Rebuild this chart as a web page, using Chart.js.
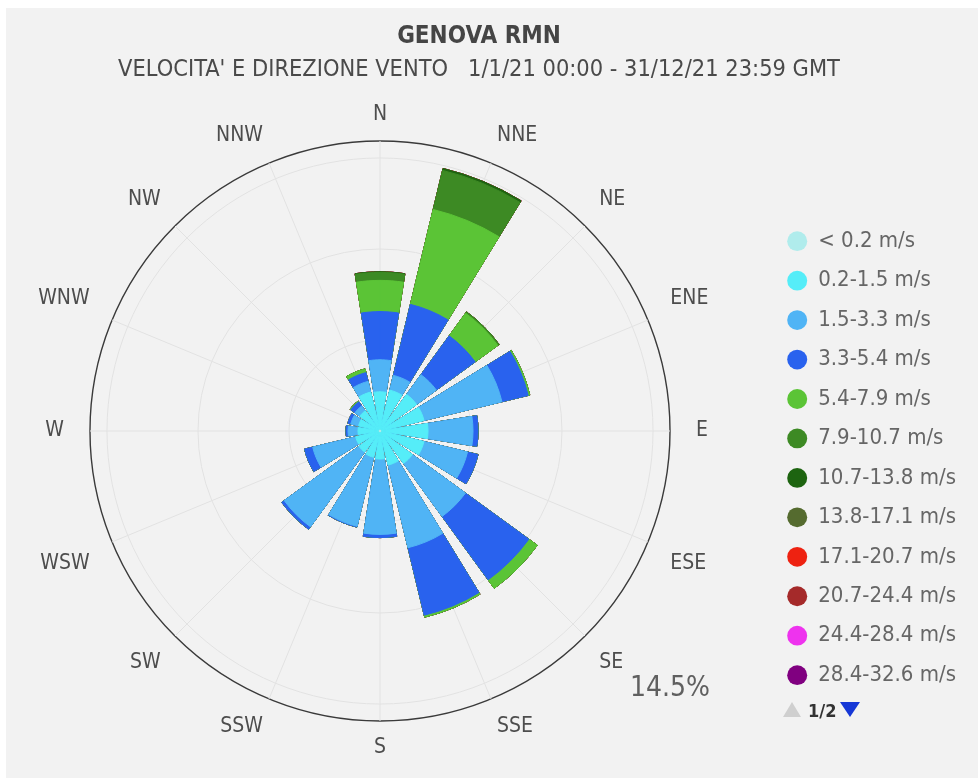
<!DOCTYPE html>
<html>
<head>
<meta charset="utf-8">
<script src="https://cdn.jsdelivr.net/npm/chart.js@4.4.1/dist/chart.umd.min.js"></script>
<style>
  html, body { margin: 0; padding: 0; width: 978px; height: 778px; overflow: hidden; background: #fff; }
  #panel { position: absolute; left: 6px; top: 8px; right: 0; bottom: 0; background: #f2f2f2; }
  #wrap { position: absolute; left: -8px; top: 0; width: 986px; height: 778px; }
  #pager { position: absolute; left: 783px; top: 700px; height: 22px; font: bold 18px 'DejaVu Sans Condensed', sans-serif; color: #333; line-height: 22px; }
  #pager .up { display: inline-block; width: 0; height: 0; border-left: 9px solid transparent; border-right: 9px solid transparent; border-bottom: 15px solid #cfcfcf; margin-right: 7px; }
  #pager .down { display: inline-block; width: 0; height: 0; border-left: 10px solid transparent; border-right: 10px solid transparent; border-top: 15px solid #1637d6; margin-left: 4px; }
</style>
</head>
<body>
<div id="panel"></div>
<div id="wrap"><canvas id="myChart"></canvas></div>
<div id="pager"><span class="up"></span>1/2<span class="down"></span></div>
<script>
var directions = ['N', 'NNE', 'NE', 'ENE', 'E', 'ESE', 'SE', 'SSE', 'S', 'SSW', 'SW', 'WSW', 'W', 'WNW', 'NW', 'NNW'];

var speedClasses = ['< 0.2 m/s', '0.2-1.5 m/s', '1.5-3.3 m/s', '3.3-5.4 m/s', '5.4-7.9 m/s', '7.9-10.7 m/s',
  '10.7-13.8 m/s', '13.8-17.1 m/s', '17.1-20.7 m/s', '20.7-24.4 m/s', '24.4-28.4 m/s', '28.4-32.6 m/s'];

var classColors = ['#b0ecec', '#55edf8', '#50b4f5', '#2962ee', '#5bc436', '#3d8a24',
  '#1d6410', '#556b2f', '#ee2211', '#a52a2a', '#ee33ee', '#800080'];

// frequency (%) per direction, N -> NNW
var freqBelow02 = [0.05, 0.05, 0.05, 0.05, 0.05, 0.05, 0.05, 0.05, 0.05, 0.05, 0.05, 0.05, 0.05, 0.05, 0.05, 0.05];
var freq02to15 = [1.91, 2.05, 2.21, 2.21, 2.35, 2.21, 1.95, 1.70, 1.35, 1.30, 1.25, 1.20, 1.05, 1.05, 1.20, 1.95];
var freq15to33 = [1.60, 0.76, 1.22, 4.01, 2.25, 2.24, 3.28, 4.25, 3.77, 3.55, 4.62, 2.21, 0.50, 0.40, 0.30, 0.55];
var freq33to54 = [2.41, 3.65, 2.40, 1.35, 0.25, 0.54, 3.92, 3.47, 0.16, 0.04, 0.15, 0.42, 0.10, 0.15, 0.25, 0.45];
var freq54to79 = [1.56, 4.88, 1.40, 0.08, 0, 0, 0.52, 0.10, 0, 0, 0, 0, 0, 0, 0.05, 0.19];
var freq79to107 = [0.40, 2.01, 0.08, 0, 0, 0, 0, 0, 0, 0, 0, 0, 0, 0, 0, 0];
var freq107to138 = [0.03, 0.10, 0, 0, 0, 0, 0, 0, 0, 0, 0, 0, 0, 0, 0, 0];
var freq138to171 = [0, 0, 0, 0, 0, 0, 0, 0, 0, 0, 0, 0, 0, 0, 0, 0];
var freq171to207 = [0, 0, 0, 0, 0, 0, 0, 0, 0, 0, 0, 0, 0, 0, 0, 0];
var freq207to244 = [0, 0, 0, 0, 0, 0, 0, 0, 0, 0, 0, 0, 0, 0, 0, 0];
var freq244to284 = [0, 0, 0, 0, 0, 0, 0, 0, 0, 0, 0, 0, 0, 0, 0, 0];
var freq284to326 = [0, 0, 0, 0, 0, 0, 0, 0, 0, 0, 0, 0, 0, 0, 0, 0];

var radiusTicks = [0, 4.55, 9.1, 13.65, 14.5];

var classSeries = [freqBelow02, freq02to15, freq15to33, freq33to54, freq54to79, freq79to107,
  freq107to138, freq138to171, freq171to207, freq207to244, freq244to284, freq284to326];

// each sector is 18deg wide with a 4.5deg gap; N is split around 0deg
var sectorAngle = 18;
var gapAngle = 4.5;

function toSlots(values) {
  var out = [values[0]];
  for (var i = 1; i < values.length; i++) {
    out.push(0, values[i]);
  }
  out.push(0, values[0]);
  return out;
}

var slotAngles = [sectorAngle / 2];
for (var i = 1; i < directions.length; i++) {
  slotAngles.push(gapAngle, sectorAngle);
}
slotAngles.push(gapAngle, sectorAngle / 2);

// stacked bands: each dataset reaches the running total of its class
var running = directions.map(function () { return 0; });
var datasets = classSeries.map(function (series, k) {
  running = running.map(function (v, i) { return v + series[i]; });
  return {
    label: speedClasses[k],
    data: toSlots(running),
    angle: slotAngles,
    backgroundColor: classColors[k],
    borderColor: classColors[k],
    borderWidth: function (ctx) { return ctx.dataIndex % 2 === 0 ? 1 : 0; }
  };
});

var maxLabel = {
  id: 'maxLabel',
  afterDraw: function (chart) {
    var r = chart.scales.r;
    var ctx = chart.ctx;
    ctx.save();
    ctx.font = "28px 'DejaVu Sans Condensed', sans-serif";
    ctx.fillStyle = '#606060';
    ctx.textAlign = 'center';
    ctx.textBaseline = 'middle';
    ctx.fillText(r.max + '%', r.xCenter + r.drawingArea, r.yCenter + r.drawingArea * 0.89);
    ctx.restore();
  }
};

var ctx = document.getElementById('myChart').getContext('2d');
var chart = new Chart(ctx, {
  type: 'polarArea',
  data: {
    labels: directions,
    datasets: datasets
  },
  plugins: [maxLabel],
  options: {
    responsive: true,
    maintainAspectRatio: false,
    animation: false,
    events: [],
    layout: {
      padding: { left: 0, right: 12, top: 0, bottom: 15.8 }
    },
    scales: {
      r: {
        min: 0,
        max: 14.5,
        afterBuildTicks: function (scale) {
          scale.ticks = radiusTicks.map(function (v) { return { value: v }; });
        },
        ticks: { display: false },
        grid: {
          circular: true,
          color: function (c) { return c.index === radiusTicks.length - 1 ? '#3a3a3a' : '#e2e2e2'; },
          lineWidth: function (c) { return c.index === radiusTicks.length - 1 ? 1.4 : 1; }
        },
        angleLines: { display: true, color: '#e2e2e2', lineWidth: 1 },
        pointLabels: {
          display: true,
          color: '#4d4d4d',
          font: { family: "'DejaVu Sans Condensed', sans-serif", size: 21 },
          padding: function (c) {
            var a = c.index * Math.PI / 8;
            return 14 + 12 * Math.pow(Math.sin(a), 2);
          }
        }
      }
    },
    plugins: {
      title: {
        display: true,
        text: 'GENOVA RMN',
        color: '#454545',
        font: { family: "'DejaVu Sans Condensed', sans-serif", size: 24, weight: 'bold' },
        padding: { top: 22.6, bottom: 0 }
      },
      subtitle: {
        display: true,
        text: "VELOCITA' E DIREZIONE VENTO   1/1/21 00:00 - 31/12/21 23:59 GMT",
        color: '#4a4a4a',
        font: { family: "'DejaVu Sans Condensed', sans-serif", size: 23.4 },
        padding: { top: 4, bottom: 18.3 }
      },
      legend: {
        position: 'right',
        align: 'center',
        fullSize: false,
        title: { display: true, text: '', padding: { top: 38, bottom: 0 }, font: { size: 12 } },
        labels: {
          usePointStyle: true,
          pointStyle: 'circle',
          pointStyleWidth: 20,
          boxHeight: 14,
          padding: 17.45,
          color: '#4a4a4a',
          font: { family: "'DejaVu Sans Condensed', sans-serif", size: 22 },
          generateLabels: function (chart) {
            return chart.data.datasets.map(function (ds, i) {
              return {
                text: speedClasses[i],
                fillStyle: classColors[i],
                strokeStyle: classColors[i],
                lineWidth: 0,
                pointStyle: 'circle',
                hidden: false,
                datasetIndex: i
              };
            });
          }
        }
      },
      tooltip: { enabled: false }
    }
  }
});
</script>
</body>
</html>
